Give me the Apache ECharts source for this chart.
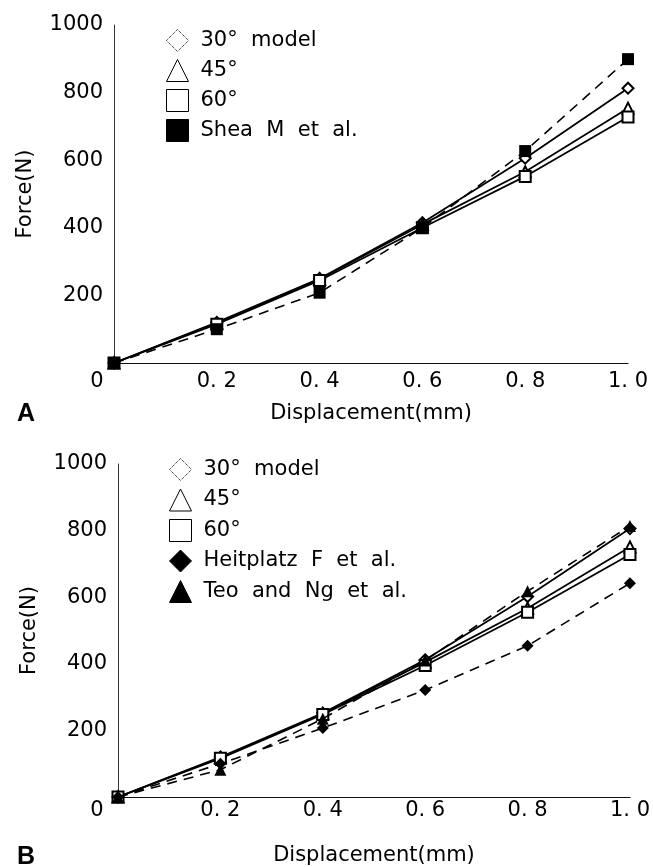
<!DOCTYPE html>
<html>
<head>
<meta charset="utf-8">
<script src="https://cdn.jsdelivr.net/npm/echarts@6/dist/echarts.min.js"></script>
<style>
  html, body { margin: 0; padding: 0; background: #fff; }
  #chart { width: 653px; height: 867px; }
</style>
</head>
<body>
<div id="chart"></div>
<script>
// displacement (mm)
var disp = [0, 0.2, 0.4, 0.6, 0.8, 1.0];
var xTicks = ['0', '0. 2', '0. 4', '0. 6', '0. 8', '1. 0'];

// panel A - force (N)
var a30 = [0, 120, 250, 415, 606, 813];
var a45 = [0, 118, 248, 410, 566, 754];
var a60 = [0, 115, 244, 400, 552, 728];
var aShea = [0, 100, 208, 400, 627, 899];

// panel B - force (N)
var b30 = [0, 120, 252, 412, 602, 806];
var b45 = [0, 118, 250, 405, 567, 751];
var b60 = [0, 116, 248, 395, 555, 728];
var bHeit = [0, 100, 207, 321, 454, 642];
var bTeo = [0, 82, 235, 410, 618, 814];

var font = 'DejaVu Sans';

function pts(ys) {
  var d = [];
  for (let i = 0; i < disp.length; i++) {
    d.push([disp[i], ys[i]]);
  }
  return d;
}

function line(name, ys, idx, symbol, size, dashed) {
  return {
    name: name,
    type: 'line',
    xAxisIndex: idx,
    yAxisIndex: idx,
    data: pts(ys),
    symbol: symbol,
    symbolSize: size,
    showAllSymbol: true,
    color: '#000',
    itemStyle: { color: '#000', borderWidth: 1.2 },
    lineStyle: dashed ? { color: '#000', width: 1.6, type: [10, 7] } : { color: '#000', width: 1.8 },
    z: dashed ? 3 : 2
  };
}

function xAxis(idx, originPad, margin, gap) {
  return {
    type: 'value',
    gridIndex: idx,
    min: 0,
    max: 1.0,
    interval: 0.2,
    name: 'Displacement(mm)',
    nameLocation: 'middle',
    nameGap: gap,
    nameTextStyle: { fontFamily: font, fontSize: 21, color: '#000' },
    axisLine: { lineStyle: { color: '#111', width: 1.2 } },
    axisTick: { show: false },
    splitLine: { show: false },
    axisLabel: {
      margin: margin,
      fontFamily: font,
      fontSize: 21,
      color: '#000',
      formatter: function (v) {
        var i = Math.round(v * 5);
        return i === 0 ? '{o|0}' : xTicks[i];
      },
      rich: { o: { fontFamily: font, fontSize: 21, color: '#000', padding: [0, originPad, 0, 0] } }
    }
  };
}

function yAxis(idx) {
  return {
    type: 'value',
    gridIndex: idx,
    min: 0,
    max: 1000,
    interval: 200,
    name: 'Force(N)',
    nameLocation: 'middle',
    nameGap: 78,
    nameTextStyle: { fontFamily: font, fontSize: 21, color: '#000' },
    axisLine: { show: true, lineStyle: { color: '#333', width: 1 } },
    axisTick: { show: false },
    splitLine: { show: false },
    axisLabel: {
      showMinLabel: false,
      margin: 11,
      fontFamily: font,
      fontSize: 21,
      color: '#000',
      formatter: function (v) { return String(v); }
    }
  };
}

function legendItem(name, icon, filled, dotted) {
  return {
    name: name,
    icon: icon,
    itemStyle: {
      color: filled ? '#000' : '#fff',
      borderColor: '#000',
      borderWidth: 1,
      borderType: dotted ? 'dotted' : 'solid'
    }
  };
}

var legendText = { fontFamily: font, fontSize: 21, color: '#000', padding: [0, 0, 0, 7] };

var chart = echarts.init(document.getElementById('chart'));
var option = {
  backgroundColor: '#fff',
  animation: false,
  title: [
    { text: 'A', left: 12, top: 397, textStyle: { fontFamily: 'Liberation Sans', fontSize: 25, fontWeight: 'bold', color: '#000' } },
    { text: 'B', left: 12, top: 840, textStyle: { fontFamily: 'Liberation Sans', fontSize: 25, fontWeight: 'bold', color: '#000' } }
  ],
  grid: [
    { left: 114, top: 25, width: 514, height: 338 },
    { left: 118, top: 464, width: 516, height: 338 }
  ],
  xAxis: [xAxis(0, 34, 8, 40), xAxis(1, 42, 3, 48)],
  yAxis: [yAxis(0), yAxis(1)],
  legend: [
    {
      orient: 'vertical',
      left: 161,
      top: 24,
      itemWidth: 22,
      itemHeight: 22,
      itemGap: 7,
      textStyle: legendText,
      data: [
        legendItem('30°  model', 'diamond', false, true),
        legendItem('45°', 'triangle', false),
        legendItem('60°', 'rect', false),
        legendItem('Shea  M  et  al.', 'rect', true)
      ]
    },
    {
      orient: 'vertical',
      left: 164,
      top: 453,
      itemWidth: 22,
      itemHeight: 22,
      itemGap: 7.5,
      textStyle: legendText,
      data: [
        legendItem('30°  model', 'diamond', false, true),
        legendItem('45°', 'triangle', false),
        legendItem('60°', 'rect', false),
        legendItem('Heitplatz  F  et  al.', 'diamond', true),
        legendItem('Teo  and  Ng  et  al.', 'triangle', true)
      ]
    }
  ],
  series: [
    line('30°  model', a30, 0, 'emptyDiamond', 11, false),
    line('45°', a45, 0, 'emptyTriangle', 11, false),
    line('60°', a60, 0, 'emptyRect', 11, false),
    line('Shea  M  et  al.', aShea, 0, 'rect', 12, true),
    line('30°  model', b30, 1, 'emptyDiamond', 11, false),
    line('45°', b45, 1, 'emptyTriangle', 11, false),
    line('60°', b60, 1, 'emptyRect', 11, false),
    line('Heitplatz  F  et  al.', bHeit, 1, 'diamond', 12, true),
    line('Teo  and  Ng  et  al.', bTeo, 1, 'triangle', 12, true)
  ]
};
chart.setOption(option);
</script>
</body>
</html>
